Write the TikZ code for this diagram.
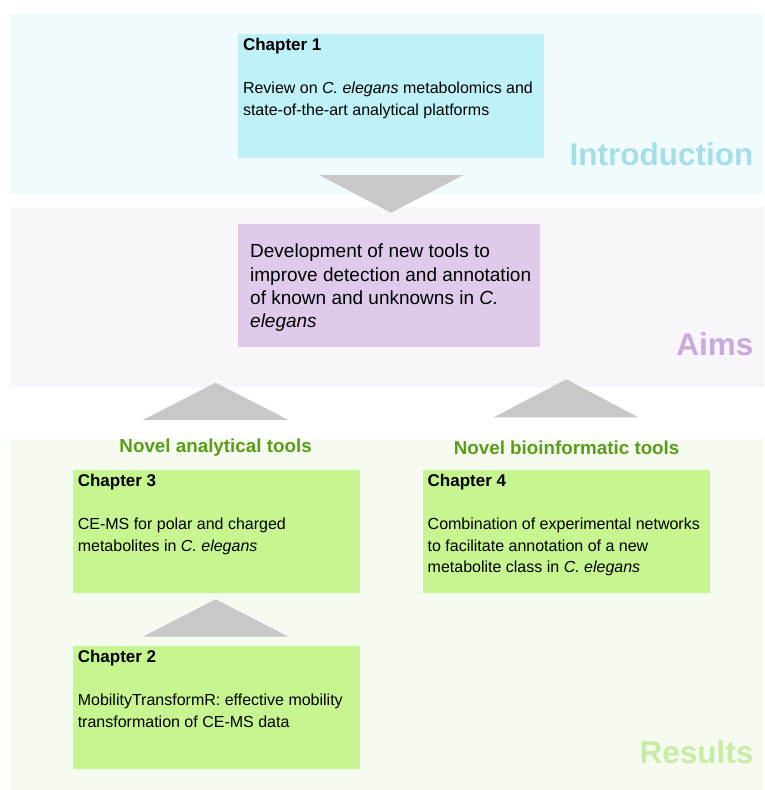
\documentclass[tikz,border=0pt]{standalone}
\usepackage{fontspec}
\setmainfont{Liberation Sans}
\definecolor{introbg}{HTML}{F0FBFD}
\definecolor{introbox}{HTML}{BEF2F8}
\definecolor{introtxt}{HTML}{A5DEE8}
\definecolor{aimsbg}{HTML}{F8F5FB}
\definecolor{aimsbox}{HTML}{DFCAEC}
\definecolor{aimstxt}{HTML}{C9AADB}
\definecolor{resbg}{HTML}{F5FCEF}
\definecolor{resbox}{HTML}{C7F58F}
\definecolor{restxt}{HTML}{C8EBA7}
\definecolor{greenhead}{HTML}{5B9C1B}
\definecolor{arrowgray}{HTML}{C8C8C8}
\begin{document}
\begin{tikzpicture}[x=1pt,y=-1pt,
  band/.style={draw=none,inner sep=0,anchor=north west},
  chapbox/.style={draw=none,inner sep=0,anchor=north west,minimum width=287,minimum height=123},
  headtxt/.style={inner sep=0,anchor=base west,font=\fontsize{17}{20}\selectfont\bfseries},
  bodytxt/.style={inner sep=0,anchor=base west,font=\fontsize{16}{20}\selectfont},
  aimtxt/.style={inner sep=0,anchor=base west,font=\fontsize{19}{23}\selectfont},
  sectlabel/.style={inner sep=0,anchor=base east,font=\fontsize{31.5}{36}\selectfont\bfseries},
  grouplabel/.style={inner sep=0,anchor=base,font=\fontsize{18.8}{22}\selectfont\bfseries,text=greenhead},
  tri/.style={fill=arrowgray,draw=none}]
\useasboundingbox (0,0) rectangle (764,790);
\fill[white] (0,0) rectangle (764,790);
% bands
\node[band,fill=introbg,minimum width=754,minimum height=180] (introband) at (10,14) {};
\node[band,fill=aimsbg,minimum width=754,minimum height=180] (aimsband) at (10,207) {};
\node[band,fill=resbg,minimum width=754,minimum height=351] (resband) at (10,439) {};
% section labels
\node[sectlabel,text=introtxt] (lintro) at (753.5,165) {Introduction};
\node[sectlabel,text=aimstxt] (laims) at (753.5,355) {Aims};
\node[sectlabel,text=restxt] (lres) at (753.5,763.3) {Results};
% chapter 1
\node[chapbox,fill=introbox,minimum width=305.5,minimum height=123.3] (ch1) at (237.8,34) {};
\node[headtxt] (ch1h) at ([shift={(5,16.7)}]ch1.north west) {Chapter 1};
\node[bodytxt] (ch1a) at ([shift={(5,59.7)}]ch1.north west) {Review on \textit{C. elegans} metabolomics and};
\node[bodytxt] (ch1b) at ([shift={(5,81.5)}]ch1.north west) {state-of-the-art analytical platforms};
% aims box
\node[chapbox,fill=aimsbox,minimum width=302.2,minimum height=122.7] (aims) at (237.8,224) {};
\node[aimtxt] (aimsa) at ([shift={(12.2,33.8)}]aims.north west) {Development of new tools to};
\node[aimtxt] (aimsb) at ([shift={(12.2,57.1)}]aims.north west) {improve detection and annotation};
\node[aimtxt] (aimsc) at ([shift={(12.2,80.4)}]aims.north west) {of known and unknowns in \textit{C.}};
\node[aimtxt] (aimsd) at ([shift={(12.2,103.7)}]aims.north west) {\textit{elegans}};
% group labels
\node[grouplabel] (gana) at (215.6,452) {Novel analytical tools};
\node[grouplabel] (gbio) at (566.6,454) {Novel bioinformatic tools};
% chapter 3
\node[chapbox,fill=resbox] (ch3) at (73.1,470) {};
\node[headtxt] (ch3h) at ([shift={(4.5,16.7)}]ch3.north west) {Chapter 3};
\node[bodytxt] (ch3a) at ([shift={(4.5,59.5)}]ch3.north west) {CE-MS for polar and charged};
\node[bodytxt] (ch3b) at ([shift={(4.5,81)}]ch3.north west) {metabolites in \textit{C. elegans}};
% chapter 4
\node[chapbox,fill=resbox] (ch4) at (423,470) {};
\node[headtxt] (ch4h) at ([shift={(4.5,16.7)}]ch4.north west) {Chapter 4};
\node[bodytxt] (ch4a) at ([shift={(4.5,59.5)}]ch4.north west) {Combination of experimental networks};
\node[bodytxt] (ch4b) at ([shift={(4.5,81)}]ch4.north west) {to facilitate annotation of a new};
\node[bodytxt] (ch4c) at ([shift={(4.5,102.5)}]ch4.north west) {metabolite class in \textit{C. elegans}};
% chapter 2
\node[chapbox,fill=resbox] (ch2) at (73.1,646) {};
\node[headtxt] (ch2h) at ([shift={(4.5,16.7)}]ch2.north west) {Chapter 2};
\node[bodytxt] (ch2a) at ([shift={(4.5,59.5)}]ch2.north west) {MobilityTransformR: effective mobility};
\node[bodytxt] (ch2b) at ([shift={(4.5,81)}]ch2.north west) {transformation of CE-MS data};
% triangles (connectors)
\fill[tri] (319.2,175) -- (463.5,175) -- (391,212.7) -- cycle;
\fill[tri] (142.8,420) -- (288.5,420) -- (215.6,382.7) -- cycle;
\fill[tri] (493.7,417.3) -- (638.4,417.3) -- (566.3,379.3) -- cycle;
\fill[tri] (142.8,636.7) -- (288.5,636.7) -- (215.6,599.3) -- cycle;
\end{tikzpicture}
\end{document}
